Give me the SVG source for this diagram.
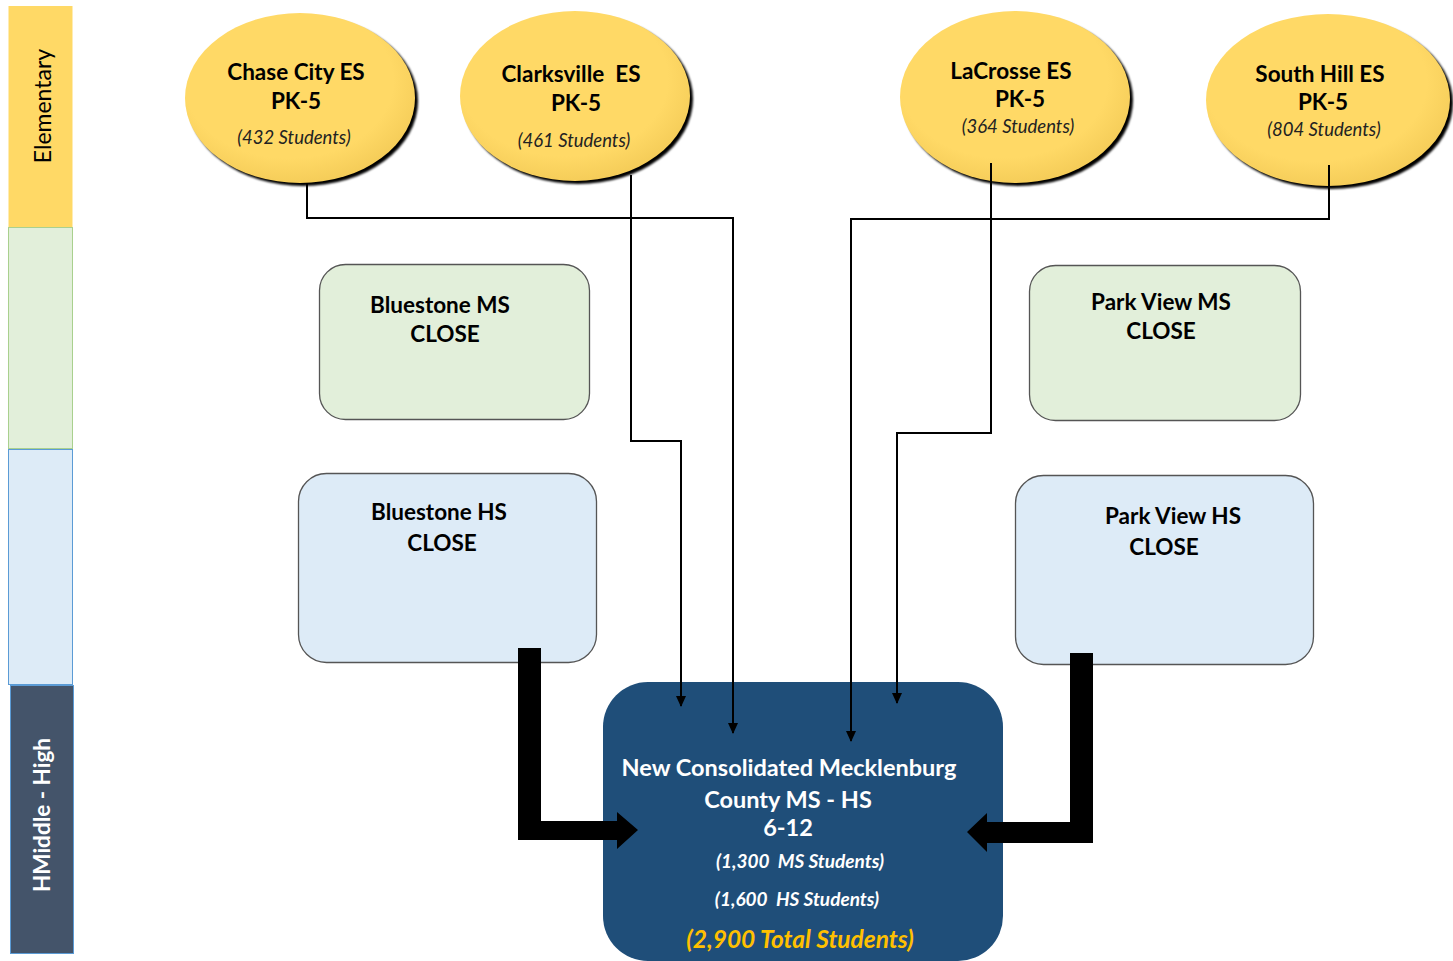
<svg xmlns="http://www.w3.org/2000/svg" width="1453" height="961" viewBox="0 0 1453 961">
<defs>
<style>
.t{font-family:Lato,"Open Sans","Liberation Sans",sans-serif;text-anchor:middle}
.b{font-weight:bold;font-size:22.5px;fill:#000}
.i{font-style:italic;font-size:18.5px;fill:#222}
.w{fill:#fff;font-weight:bold;font-size:23.5px}
.wi{fill:#fff;font-weight:bold;font-style:italic;font-size:19px}
.gold{fill:#FFC000;font-weight:bold;font-style:italic;font-size:24.5px}
.sh{fill:#000;filter:url(#blur)}
.ms{fill:#E2EFDA;stroke:#555;stroke-width:1.3}
.hs{fill:#DDEBF7;stroke:#555;stroke-width:1.3}
.ln{fill:none;stroke:#000;stroke-width:2}
</style>
<filter id="blur" x="-10%" y="-10%" width="120%" height="120%"><feGaussianBlur stdDeviation="1.2"/></filter>
<radialGradient id="yg" cx="0.45" cy="0.4" r="0.65">
<stop offset="0.7" stop-color="#FFD966"/>
<stop offset="1" stop-color="#F2C955"/>
</radialGradient>
<marker id="ah" markerWidth="12" markerHeight="12" refX="10" refY="5" orient="auto" markerUnits="userSpaceOnUse">
<path d="M0,0 L11,5 L0,10 Z" fill="#000"/>
</marker>
</defs>
<rect width="1453" height="961" fill="#fff"/>

<g id="sidebar">
<rect x="8.5" y="6" width="64" height="221" fill="#FFD966"/>
<rect x="8.5" y="227.5" width="64" height="221" fill="#E2EFDA" stroke="#A9D08E" stroke-width="1"/>
<rect x="8.5" y="449.5" width="64" height="235" fill="#DDEBF7" stroke="#5B9BD5" stroke-width="1"/>
<rect x="10.5" y="685.5" width="63" height="268" fill="#44546A" stroke="#5B9BD5" stroke-width="1"/>
<text class="t" transform="translate(51,106) rotate(-90)" font-size="23" fill="#000">Elementary</text>
<text class="t" transform="translate(50,815) rotate(-90)" font-size="22.5" font-weight="bold" fill="#fff">HMiddle - High</text>
</g>

<g id="chase-city">
<ellipse class="sh" cx="303" cy="101" rx="115" ry="85"/>
<ellipse cx="300" cy="98" rx="115" ry="85" fill="url(#yg)"/>
<text class="t b" x="296" y="80">Chase City ES</text>
<text class="t b" x="296" y="109">PK-5</text>
<text class="t i" x="294" y="144">(432 Students)</text>
</g>
<g id="clarksville">
<ellipse class="sh" cx="578" cy="99" rx="115" ry="85"/>
<ellipse cx="575" cy="96" rx="115" ry="85" fill="url(#yg)"/>
<text class="t b" x="571" y="82" xml:space="preserve">Clarksville  ES</text>
<text class="t b" x="576" y="111">PK-5</text>
<text class="t i" x="574" y="147">(461 Students)</text>
</g>
<g id="lacrosse">
<ellipse class="sh" cx="1018" cy="100" rx="115" ry="86"/>
<ellipse cx="1015" cy="97" rx="115" ry="86" fill="url(#yg)"/>
<text class="t b" x="1011" y="79">LaCrosse ES</text>
<text class="t b" x="1020" y="107">PK-5</text>
<text class="t i" x="1018" y="133">(364 Students)</text>
</g>
<g id="south-hill">
<ellipse class="sh" cx="1331" cy="103" rx="122" ry="86"/>
<ellipse cx="1328" cy="100" rx="122" ry="86" fill="url(#yg)"/>
<text class="t b" x="1320" y="82">South Hill ES</text>
<text class="t b" x="1323" y="110">PK-5</text>
<text class="t i" x="1324" y="136">(804 Students)</text>
</g>

<g id="bluestone-ms">
<rect class="ms" x="319.5" y="264.5" width="270" height="155" rx="26"/>
<text class="t b" x="440" y="313">Bluestone MS</text>
<text class="t b" x="445" y="342">CLOSE</text>
</g>
<g id="bluestone-hs">
<rect class="hs" x="298.5" y="473.5" width="298" height="189" rx="28"/>
<text class="t b" x="439" y="520">Bluestone HS</text>
<text class="t b" x="442" y="551">CLOSE</text>
</g>
<g id="parkview-ms">
<rect class="ms" x="1029.5" y="265.5" width="271" height="155" rx="26"/>
<text class="t b" x="1161" y="310">Park View MS</text>
<text class="t b" x="1161" y="339">CLOSE</text>
</g>
<g id="parkview-hs">
<rect class="hs" x="1015.5" y="475.5" width="298" height="189" rx="28"/>
<text class="t b" x="1173" y="524">Park View HS</text>
<text class="t b" x="1164" y="555">CLOSE</text>
</g>

<g id="consolidated">
<rect x="603" y="682" width="400" height="279" rx="45" fill="#1F4E79"/>
<text class="t w" x="789" y="776">New Consolidated Mecklenburg</text>
<text class="t w" x="788" y="808">County MS - HS</text>
<text class="t w" x="788" y="836">6-12</text>
<text class="t wi" x="800" y="868" xml:space="preserve">(1,300  MS Students)</text>
<text class="t wi" x="797" y="906" xml:space="preserve">(1,600  HS Students)</text>
<text class="t gold" x="800" y="948">(2,900 Total Students)</text>
</g>

<g id="connectors">
<path class="ln" d="M307,183 V218 H733 V733" marker-end="url(#ah)"/>
<path class="ln" d="M631,175 V441 H681 V706" marker-end="url(#ah)"/>
<path class="ln" d="M991,163 V433 H897 V703" marker-end="url(#ah)"/>
<path class="ln" d="M1329,165 V219 H851 V741" marker-end="url(#ah)"/>
<path d="M518,648 H541 V821 H617 V812 L638,830 L617,849 V840 H518 Z" fill="#000"/>
<path d="M1093,653 H1070 V822 H987 V813 L967,832 L987,852 V843 H1093 Z" fill="#000"/>
</g>
</svg>
